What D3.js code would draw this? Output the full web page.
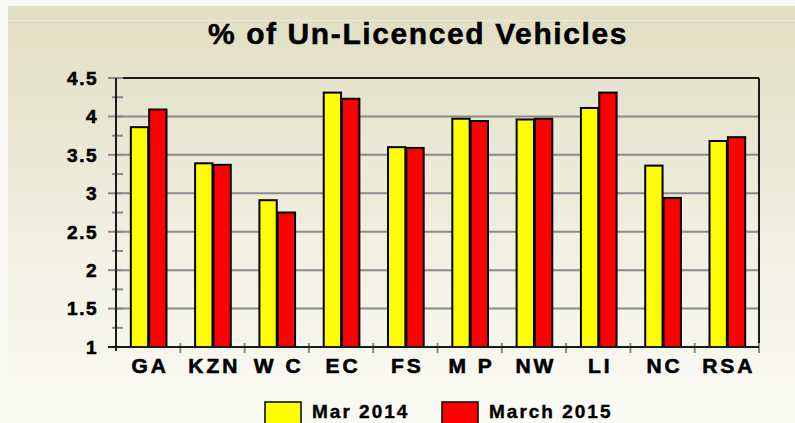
<!DOCTYPE html>
<html>
<head>
<meta charset="utf-8">
<script src="https://cdn.jsdelivr.net/npm/d3@7"></script>
<style>
  html, body { margin: 0; padding: 0; background: #ffffff; }
  svg { display: block; font-family: "Liberation Sans", Arial, sans-serif; font-weight: bold; }
</style>
</head>
<body>
<div id="chart"></div>
<script>
// Data
const regions = ["GA", "KZN", "W C", "EC", "FS", "M P", "NW", "LI", "NC", "RSA"];
const mar2014 = [3.86, 3.39, 2.91, 4.31, 3.60, 3.97, 3.96, 4.11, 3.36, 3.68];
const mar2015 = [4.09, 3.37, 2.75, 4.23, 3.59, 3.94, 3.97, 4.31, 2.94, 3.73];
const seriesNames = ["Mar 2014", "March 2015"];
const seriesColors = ["#ffff00", "#ff0000"];
const yTicks = [1, 1.5, 2, 2.5, 3, 3.5, 4, 4.5];

const width = 795, height = 423;
const margin = { top: 78, right: 36, bottom: 76, left: 116 };

const svg = d3.select("#chart").append("svg")
  .attr("width", width)
  .attr("height", height);

// background gradient
const defs = svg.append("defs");
const grad = defs.append("linearGradient")
  .attr("id", "bg").attr("x1", 0).attr("y1", 0).attr("x2", 0).attr("y2", 1);
grad.append("stop").attr("offset", "0%").attr("stop-color", "#e0dec3");
grad.append("stop").attr("offset", "55%").attr("stop-color", "#f0efe0");
grad.append("stop").attr("offset", "100%").attr("stop-color", "#fbfbf6");

svg.append("rect").attr("width", width).attr("height", height).attr("fill", "#fbfbf6");
svg.append("rect").attr("x", 8).attr("y", 6).attr("width", width - 8).attr("height", height - 6)
  .attr("fill", "url(#bg)");
svg.append("line").attr("x1", 8).attr("x2", width).attr("y1", 20.5).attr("y2", 20.5)
  .attr("stroke", "#ebe9d6").attr("stroke-width", 1);

const x0 = d3.scaleBand()
  .domain(regions)
  .range([margin.left, width - margin.right])
  .paddingInner(0.43)
  .paddingOuter(0.215);

const x1 = d3.scaleBand()
  .domain([0, 1])
  .range([0, x0.bandwidth()])
  .padding(0);

const y = d3.scaleLinear()
  .domain([1, 4.5])
  .range([height - margin.bottom, margin.top]);

const plotRight = width - margin.right;
const plotBottom = height - margin.bottom;

// grid lines
svg.append("g")
  .selectAll("line")
  .data(yTicks.filter(t => t > 1 && t < 4.5))
  .join("line")
  .attr("x1", margin.left).attr("x2", plotRight)
  .attr("y1", d => y(d)).attr("y2", d => y(d))
  .attr("stroke", "#8a8a8a").attr("stroke-width", 2);

// frame: top and right
svg.append("line")
  .attr("x1", margin.left).attr("x2", plotRight)
  .attr("y1", y(4.5)).attr("y2", y(4.5))
  .attr("stroke", "#1a1a1a").attr("stroke-width", 2);
svg.append("line")
  .attr("x1", plotRight).attr("x2", plotRight)
  .attr("y1", y(4.5)).attr("y2", plotBottom)
  .attr("stroke", "#1a1a1a").attr("stroke-width", 2);

// bars
const groups = svg.append("g")
  .selectAll("g")
  .data(regions)
  .join("g")
  .attr("transform", d => `translate(${x0(d)},0)`);

groups.selectAll("rect")
  .data((d, i) => [mar2014[i], mar2015[i]])
  .join("rect")
  .attr("x", (d, j) => x1(j) + 1)
  .attr("width", x1.bandwidth() - 1)
  .attr("y", d => y(d))
  .attr("height", d => plotBottom - y(d))
  .attr("fill", (d, j) => seriesColors[j])
  .attr("stroke", "#000")
  .attr("stroke-width", 2);

// y axis
const yAxis = svg.append("g")
  .attr("transform", `translate(${margin.left},0)`);

const minorTicks = d3.range(1.25, 4.5, 0.5);
yAxis.selectAll(".minor")
  .data(minorTicks)
  .join("line")
  .attr("class", "minor")
  .attr("x1", -4).attr("x2", 7)
  .attr("y1", d => y(d)).attr("y2", d => y(d))
  .attr("stroke", "#8a8a8a").attr("stroke-width", 2);

yAxis.selectAll(".major")
  .data(yTicks)
  .join("line")
  .attr("class", "major")
  .attr("x1", -8).attr("x2", 7)
  .attr("y1", d => y(d)).attr("y2", d => y(d))
  .attr("stroke", "#8a8a8a").attr("stroke-width", 2);

yAxis.append("line")
  .attr("x1", 0).attr("x2", 0)
  .attr("y1", y(4.5)).attr("y2", plotBottom + 4)
  .attr("stroke", "#1a1a1a").attr("stroke-width", 2);

yAxis.selectAll("text")
  .data(yTicks)
  .join("text")
  .attr("x", -18)
  .attr("y", d => y(d))
  .attr("dy", "0.36em")
  .attr("text-anchor", "end")
  .attr("font-size", 19)
  .attr("letter-spacing", 1.5)
  .attr("fill", "#000")
  .attr("stroke", "#000").attr("stroke-width", 0.6)
  .text(d => d);

// x axis
const xAxis = svg.append("g");
const boundaries = regions.map(r => x0(r) - x0.step() * x0.paddingInner() / 2).slice(1)
  .concat([plotRight]);

xAxis.selectAll("line.tick")
  .data(boundaries)
  .join("line")
  .attr("class", "tick")
  .attr("x1", d => d).attr("x2", d => d)
  .attr("y1", plotBottom - 4).attr("y2", plotBottom + 6)
  .attr("stroke", "#8a8a8a").attr("stroke-width", 2);

xAxis.append("line")
  .attr("x1", margin.left - 8).attr("x2", plotRight)
  .attr("y1", plotBottom).attr("y2", plotBottom)
  .attr("stroke", "#1a1a1a").attr("stroke-width", 2);

xAxis.selectAll("text")
  .data(regions)
  .join("text")
  .attr("x", d => x0(d) + x0.bandwidth() / 2 + 2)
  .attr("y", plotBottom + 26)
  .attr("text-anchor", "middle")
  .attr("font-size", 21)
  .attr("letter-spacing", 3)
  .attr("fill", "#000")
  .attr("stroke", "#000").attr("stroke-width", 0.6)
  .text(d => d);

// title
svg.append("text")
  .attr("x", 418)
  .attr("y", 44)
  .attr("text-anchor", "middle")
  .attr("font-size", 30)
  .attr("letter-spacing", 1.6)
  .attr("fill", "#000")
  .attr("stroke", "#000").attr("stroke-width", 0.5)
  .text("% of Un-Licenced Vehicles");

// legend
const legend = svg.append("g");
const legendX = [265, 442];
seriesNames.forEach((name, i) => {
  legend.append("rect")
    .attr("x", legendX[i]).attr("y", 402)
    .attr("width", 36).attr("height", 24)
    .attr("fill", seriesColors[i])
    .attr("stroke", "#000").attr("stroke-width", 1.5);
  legend.append("text")
    .attr("x", legendX[i] + 47).attr("y", 418)
    .attr("font-size", 19)
    .attr("letter-spacing", 2)
    .attr("fill", "#000")
    .attr("stroke", "#000").attr("stroke-width", 0.4)
    .text(name);
});
</script>
</body>
</html>
